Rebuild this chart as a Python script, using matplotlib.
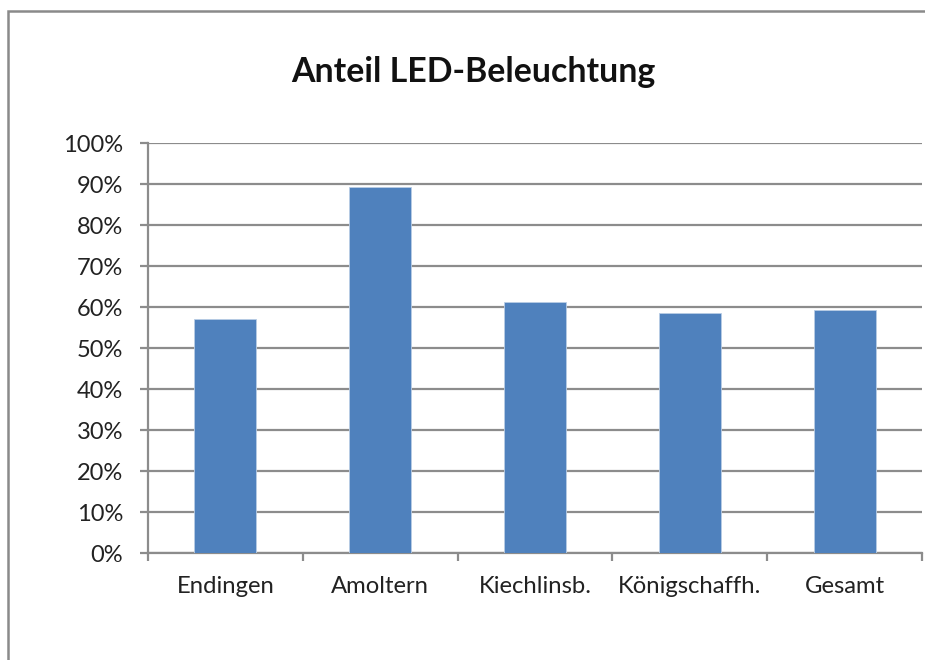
import matplotlib
matplotlib.use("Agg")
import matplotlib.pyplot as plt
from matplotlib.patches import Rectangle
from matplotlib.ticker import FixedLocator, PercentFormatter
import numpy as np

categories = ["Endingen", "Amoltern", "Kiechlinsb.", "Königschaffh.", "Gesamt"]
values = [57.1, 89.3, 61.2, 58.5, 59.2]
yticks = [0, 10, 20, 30, 40, 50, 60, 70, 80, 90, 100]
title = "Anteil LED-Beleuchtung"

plt.rcParams['font.family'] = ['Lato', 'DejaVu Sans']

W, H = 925, 660
fig = plt.figure(figsize=(W / 100, H / 100), dpi=100)

# outer chart border (only left and top visible)
fig.patches.append(Rectangle((8 / W, -0.1), 1.2, (H - 11) / H + 0.1, transform=fig.transFigure,
                             fill=False, edgecolor='#8a8a8a', linewidth=1.8))

ax = fig.add_axes([148 / W, 1 - 553 / H, (922 - 148) / W, (553 - 143.3) / H])
x = np.arange(len(categories))
ax.bar(x, values, width=0.4, color='#4F81BD', edgecolor='#b9cde5', linewidth=0.6, zorder=3)

ax.set_xlim(-0.5, len(categories) - 0.5)
ax.set_ylim(0, 100)
ax.set_yticks(yticks)
ax.yaxis.set_major_formatter(PercentFormatter(decimals=0))
ax.yaxis.grid(True, color='#8c8c8c', linewidth=1.6, zorder=0)
ax.set_axisbelow(True)

ax.set_xticks(x)
ax.set_xticklabels(categories)
ax.xaxis.set_minor_locator(FixedLocator(np.arange(-0.5, len(categories), 1)))
ax.tick_params(axis='x', which='major', length=0, pad=16.5, labelsize=17.2, colors='#222222')
ax.tick_params(axis='x', which='minor', length=5.8, width=1.6, color='#8c8c8c')
ax.tick_params(axis='y', length=5.8, width=1.6, color='#8c8c8c', labelsize=17, labelcolor='#222222', pad=12)

for s in ['top', 'right']:
    ax.spines[s].set_visible(False)
for s in ['left', 'bottom']:
    ax.spines[s].set_color('#8c8c8c')
    ax.spines[s].set_linewidth(1.6)

fig.text(473.5 / W, 1 - 72 / H, title, ha='center', va='center', fontsize=24.4, fontweight='bold', color='#111111')

fig.savefig("out.png", dpi=100)
